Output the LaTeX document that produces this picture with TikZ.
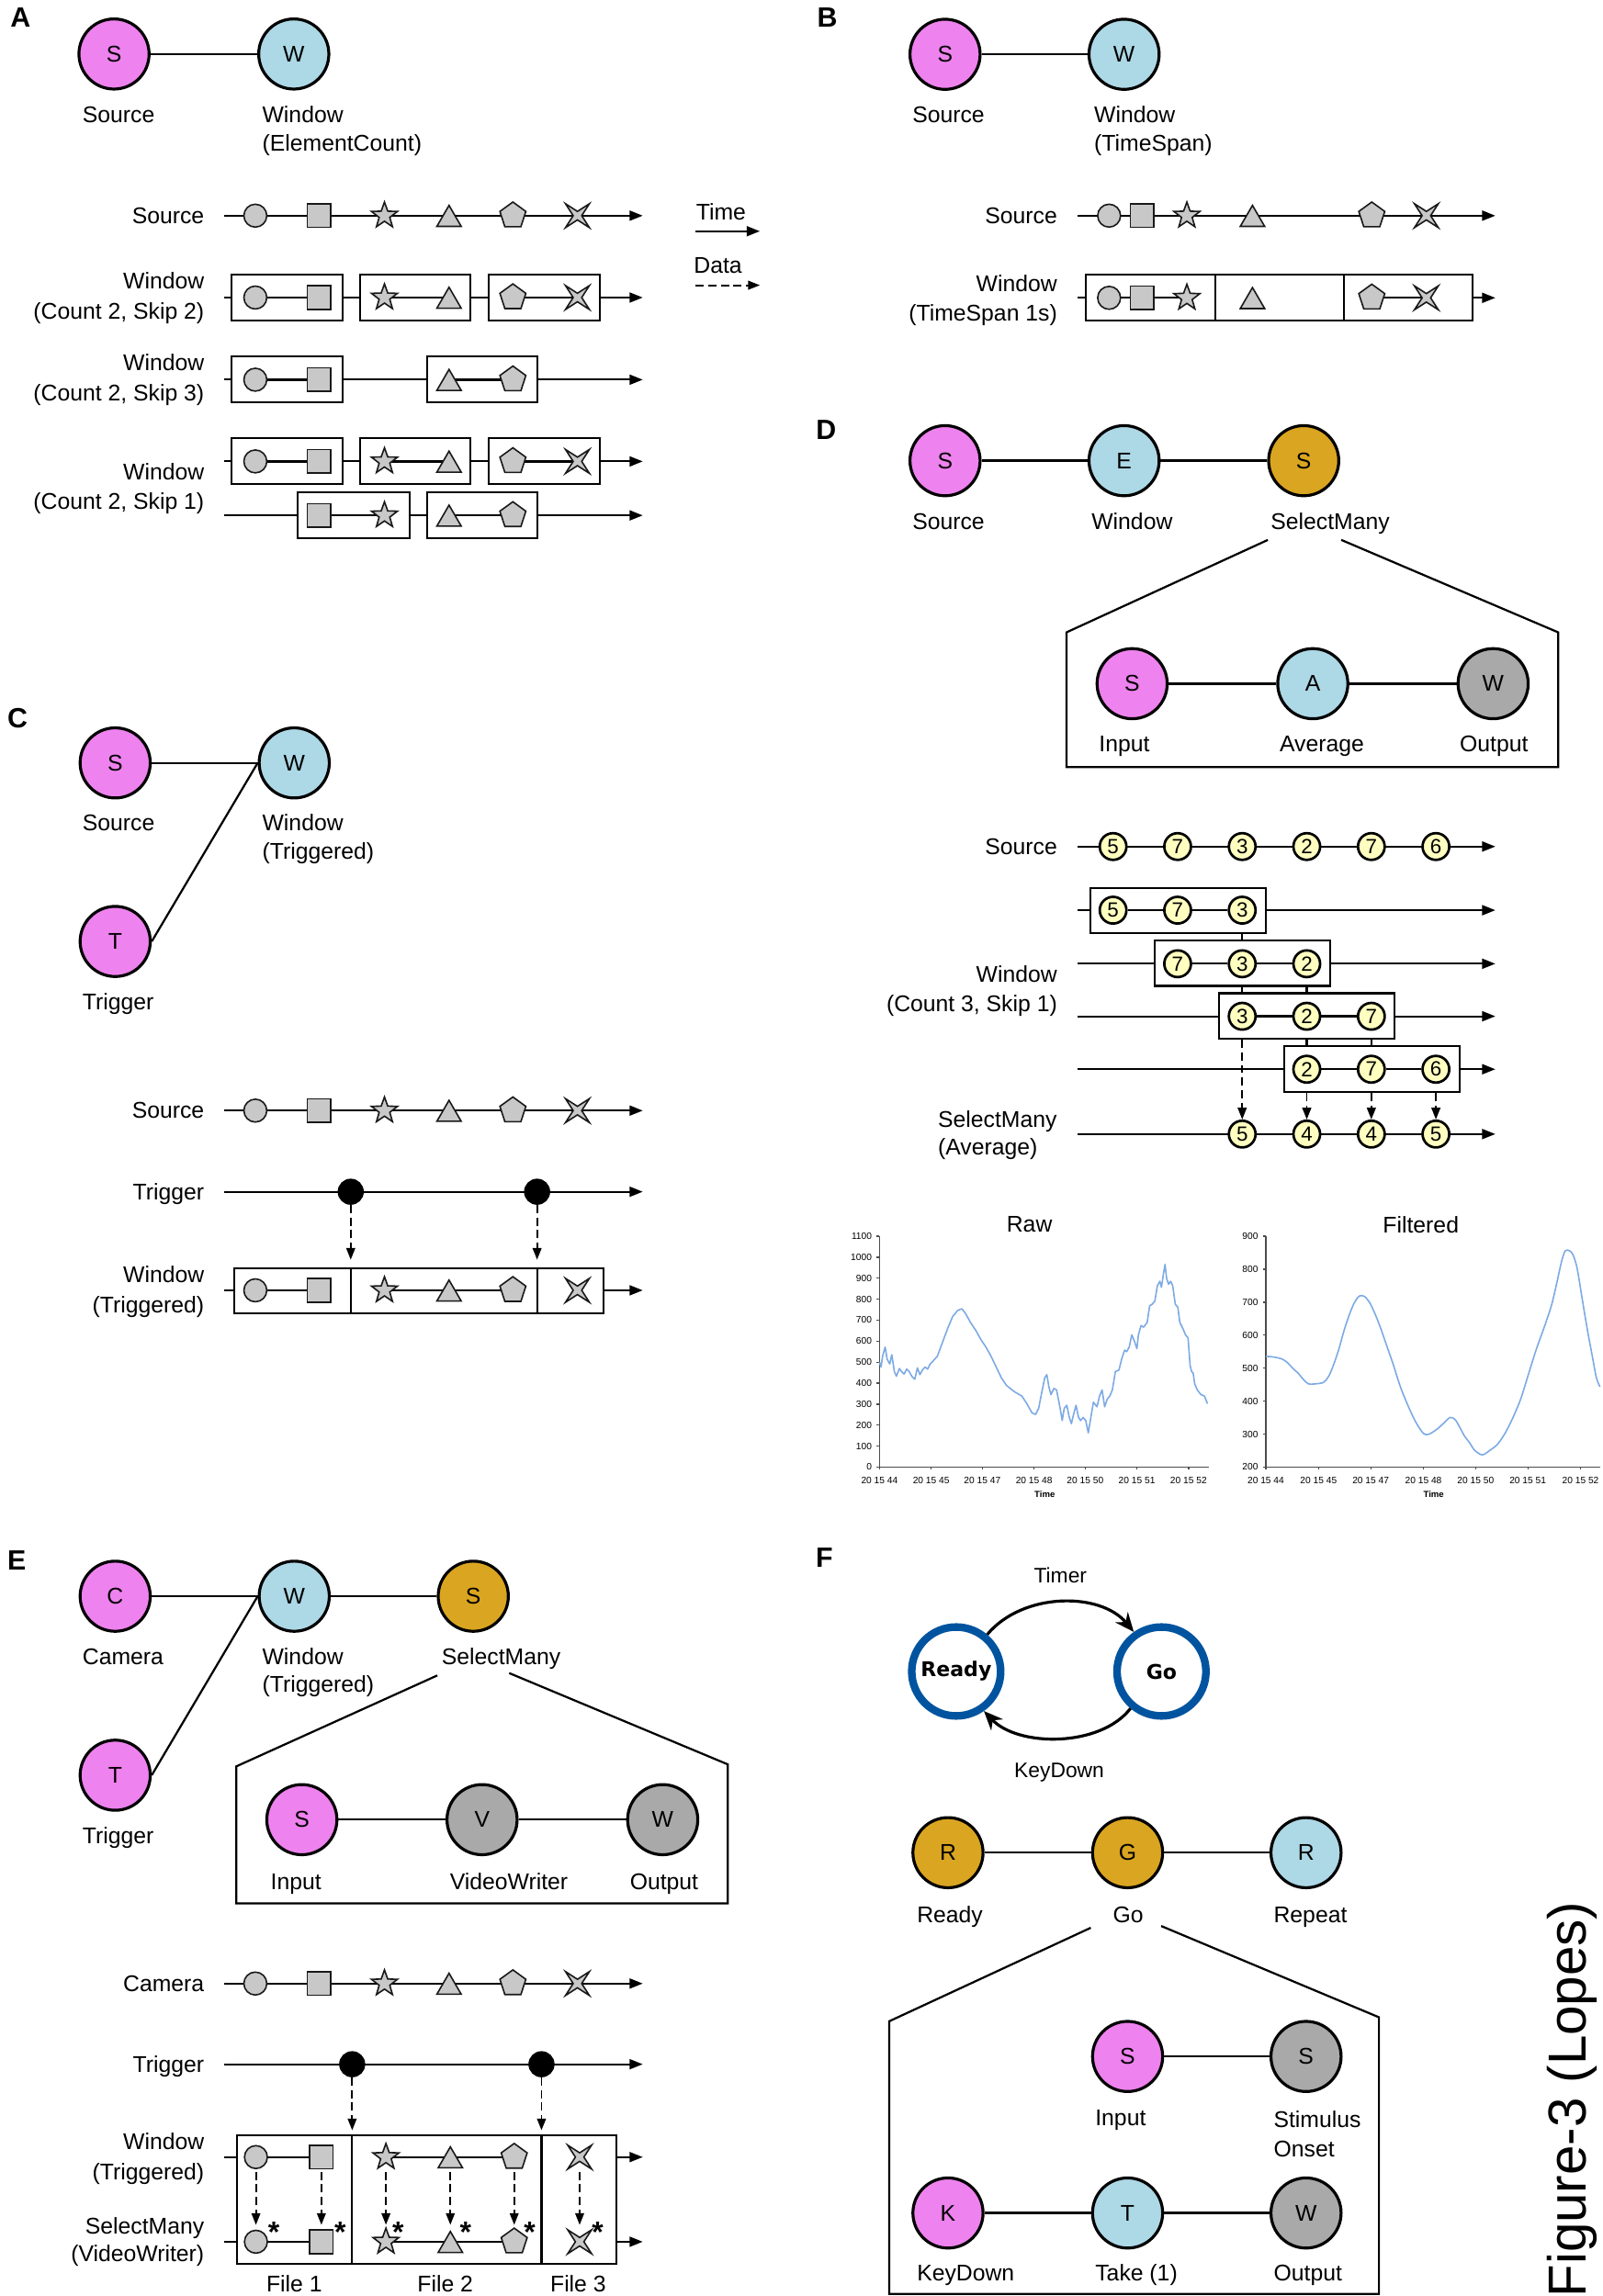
\documentclass[tikz,border=0pt]{standalone}
\usepackage{fontspec}
\setmainfont{Liberation Sans}
\newfontfamily\smfont{DejaVu Sans}
\usetikzlibrary{arrows.meta,fit}
\definecolor{pinkc}{RGB}{238,130,238}
\definecolor{bluec}{RGB}{173,216,230}
\definecolor{orc}{RGB}{218,165,32}
\definecolor{grayc}{RGB}{169,169,169}
\definecolor{shpc}{RGB}{200,200,200}
\definecolor{yelc}{RGB}{255,255,192}
\definecolor{ringc}{RGB}{0,84,159}
\definecolor{chartc}{RGB}{125,170,228}
\newcommand\labfont{\fontsize{7.75pt}{9.3pt}\selectfont}
\newcommand\stdshapes[1]{\pic at (174,#1) {mkcirc}; \pic at (217.5,#1) {mksq}; \pic at (262,#1) {mkstar}; \pic at (306,#1) {mktri}; \pic at (349.5,#1) {mkpent}; \pic at (393.5,#1) {mkx};}
\tikzset{
 nd/.style={circle, draw=black, line width=1pt, minimum size=23.9pt, inner sep=0pt},
 pinkn/.style={nd, fill=pinkc}, bluen/.style={nd, fill=bluec},
 orn/.style={nd, fill=orc}, grayn/.style={nd, fill=grayc},
 conn/.style={line width=0.7pt},
 lbl/.style={anchor=base west, inner sep=0pt},
 rlbl/.style={anchor=base east, inner sep=0pt},
 panel/.style={font=\fontsize{9.5pt}{11pt}\selectfont\bfseries, inner sep=0pt},
 tline/.style={line width=0.65pt, -{Triangle[length=4.5pt,width=3.4pt]}},
 wbox/.style={draw, fill=white, line width=0.65pt, inner sep=0pt},
 divl/.style={line width=0.65pt},
 dasharr/.style={line width=0.6pt, dash pattern=on 2.8pt off 1.5pt, -{Triangle[length=4pt,width=3pt]}},
 trig/.style={circle, fill=black, draw=black, minimum size=8.5pt, inner sep=0pt},
 numc/.style={circle, draw=black, line width=0.85pt, fill=yelc, minimum size=9.1pt, inner sep=0pt, font=\fontsize{7pt}{7.5pt}\selectfont},
 expln/.style={line width=0.7pt, line join=miter},
 shp/.style={draw=black!90, fill=shpc, line width=0.5pt, line join=miter},
 stnode/.style={circle, draw=ringc, line width=2.6pt, fill=white, minimum size=30.3pt, inner sep=0pt, font=\smfont\bfseries\fontsize{6.9pt}{8pt}\selectfont},
 smarr/.style={line width=1pt, -{Stealth[length=6.5pt,width=5.5pt]}},
 astx/.style={font=\bfseries\fontsize{10pt}{11pt}\selectfont, inner sep=0pt},
 axc/.style={draw=black!70, line width=0.4pt},
 ticklbl/.style={font=\fontsize{3.2pt}{3.6pt}\selectfont, inner sep=0pt},
 chartln/.style={draw=chartc, line width=0.5pt, line join=round},
 mkcirc/.pic={\draw[shp] (0,0) circle[radius=7.8]; \coordinate (-t) at (0,-11.5); \coordinate (-b) at (0,10);},
 mksq/.pic={\draw[shp] (-8,-8) rectangle (8,8); \coordinate (-t) at (0,-11.5); \coordinate (-b) at (0,10);},
 mkstar/.pic={\draw[shp] (270:9.3) -- (306:3.8) -- (342:9.3) -- (18:3.8) -- (54:9.3) -- (90:3.8) -- (126:9.3) -- (162:3.8) -- (198:9.3) -- (234:3.8) -- cycle; \coordinate (-t) at (0,-11.5); \coordinate (-b) at (0,10);},
 mktri/.pic={\draw[shp] (0,-7) -- (8.3,7.3) -- (-8.3,7.3) -- cycle; \coordinate (-t) at (0,-11.5); \coordinate (-b) at (0,10);},
 mkpent/.pic={\draw[shp] (270:9.3) -- (342:9.3) -- (54:9.3) -- (126:9.3) -- (198:9.3) -- cycle; \coordinate (-t) at (0,-11.5); \coordinate (-b) at (0,10);},
 mkx/.pic={\draw[shp] (45:11.5) -- (90:2.9) -- (135:11.5) -- (180:2.9) -- (225:11.5) -- (270:2.9) -- (315:11.5) -- (0:2.9) -- cycle; \coordinate (-t) at (0,-11.5); \coordinate (-b) at (0,10);},
}
\begin{document}
\begin{tikzpicture}[x=0.5pt,y=-0.5pt,font=\labfont]
\fill[white] (0,0) rectangle (1092,1565);
\useasboundingbox (0,0) rectangle (1092,1565);

%%%%%%%%%%%%%%%% PANEL A
\node[panel] (pA) at (14,12) {A};
\node[pinkn] (aS) at (77.7,36.8) {S};
\node[bluen] (aW) at (200.2,36.8) {W};
\draw[conn] (aS) -- (aW);
\node[lbl] (aSl) at (55.9,83.8) {Source};
\node[lbl] (aWl) at (178.4,83.8) {Window};
\node[lbl] (aWl2) at (178.4,102.8) {(ElementCount)};
% source row
\node[rlbl] (aL1) at (139.5,152.5) {Source};
\draw[tline] (152.5,147) -- (438,147);
\stdshapes{147}
% legend
\node[lbl] (lTime) at (474,149.7) {Time};
\coordinate (lt1) at (474,157.6); \coordinate (lt2) at (517.8,157.6);
\draw[tline] (lt1) -- (lt2);
\node[lbl] (lData) at (472.5,186.1) {Data};
\coordinate (ld1) at (474,194.4); \coordinate (ld2) at (517.8,194.4);
\draw[dasharr] (ld1) -- (ld2);
% count 2 skip 2
\node[rlbl] (aL2) at (139.5,196.9) {Window};
\node[rlbl] (aL2b) at (139.5,217.4) {(Count 2, Skip 2)};
\draw[tline] (152.5,202.8) -- (438,202.8);
\node[wbox, fit={(158,187)(233.7,218.5)}] (a2b1) {};
\node[wbox, fit={(245.6,187)(320.7,218.5)}] (a2b2) {};
\node[wbox, fit={(333,187)(408.6,218.5)}] (a2b3) {};
\draw[conn] (174,202.8) -- (217.5,202.8) (262,202.8) -- (306,202.8) (349.5,202.8) -- (393.5,202.8);
\stdshapes{202.8}
% count 2 skip 3
\node[rlbl] (aL3) at (139.5,252.6) {Window};
\node[rlbl] (aL3b) at (139.5,273.1) {(Count 2, Skip 3)};
\draw[tline] (152.5,258.8) -- (438,258.8);
\node[wbox, fit={(158,243.1)(233.7,274.3)}] (a3b1) {};
\node[wbox, fit={(291,243.1)(366,274.3)}] (a3b2) {};
\draw[conn] (174,258.8) -- (217.5,258.8) (306,258.8) -- (349.5,258.8);
\pic at (174,258.8) {mkcirc}; \pic at (217.5,258.8) {mksq}; \pic at (306,258.8) {mktri}; \pic at (349.5,258.8) {mkpent};
% count 2 skip 1
\node[rlbl] (aL4) at (139.5,327.2) {Window};
\node[rlbl] (aL4b) at (139.5,347) {(Count 2, Skip 1)};
\draw[tline] (152.5,314.5) -- (438,314.5);
\node[wbox, fit={(158,298.8)(233.7,330)}] (a4b1) {};
\node[wbox, fit={(245.6,298.8)(320.7,330)}] (a4b2) {};
\node[wbox, fit={(333,298.8)(408.6,330)}] (a4b3) {};
\draw[conn] (174,314.5) -- (217.5,314.5) (262,314.5) -- (306,314.5) (349.5,314.5) -- (393.5,314.5);
\stdshapes{314.5}
\draw[tline] (152.5,351.3) -- (438,351.3);
\node[wbox, fit={(203,335.6)(279,366.8)}] (a5b1) {};
\node[wbox, fit={(291,335.6)(366,366.8)}] (a5b2) {};
\draw[conn] (217.5,351.3) -- (262,351.3) (306,351.3) -- (349.5,351.3);
\pic at (217.5,351.3) {mksq}; \pic at (262,351.3) {mkstar}; \pic at (306,351.3) {mktri}; \pic at (349.5,351.3) {mkpent};

%%%%%%%%%%%%%%%% PANEL B
\node[panel] (pB) at (563.8,12) {B};
\node[pinkn] (bS) at (644,37) {S};
\node[bluen] (bW) at (766,37) {W};
\draw[conn] (bS) -- (bW);
\node[lbl] (bSl) at (621.4,83.8) {Source};
\node[lbl] (bWl) at (745.3,83.8) {Window};
\node[lbl] (bWl2) at (745.3,102.8) {(TimeSpan)};
\node[rlbl] (bL1) at (720.8,152.5) {Source};
\draw[tline] (734,147) -- (1019,147);
\pic at (755.8,147) {mkcirc}; \pic at (778.4,147) {mksq}; \pic at (808.8,147) {mkstar};
\pic at (853.5,147) {mktri}; \pic at (934.8,147) {mkpent}; \pic at (972,147) {mkx};
\node[rlbl] (bL2) at (720.8,198.8) {Window};
\node[rlbl] (bL2b) at (720.8,218.8) {(TimeSpan 1s)};
\draw[tline] (734,203) -- (1019,203);
\node[wbox, fit={(740,187)(1003.5,218.5)}] (bbox) {};
\draw[divl] (828,187) -- (828,218.5) (915.6,187) -- (915.6,218.5);
\draw[conn] (755.8,203) -- (808.8,203) (934.8,203) -- (972,203);
\pic at (755.8,203) {mkcirc}; \pic at (778.4,203) {mksq}; \pic at (808.8,203) {mkstar};
\pic at (853.5,203) {mktri}; \pic at (934.8,203) {mkpent}; \pic at (972,203) {mkx};

%%%%%%%%%%%%%%%% PANEL C
\node[panel] (pC) at (12,489.5) {C};
\node[pinkn] (cS) at (78.5,520) {S};
\node[bluen] (cW) at (200.5,520) {W};
\node[pinkn] (cT) at (78.5,641.7) {T};
\draw[conn] (cS) -- (cW);
\draw[conn] (cT.east) -- (cW.west);
\node[lbl] (cSl) at (55.9,566.5) {Source};
\node[lbl] (cWl) at (178.4,566.5) {Window};
\node[lbl] (cWl2) at (178.4,585.5) {(Triggered)};
\node[lbl] (cTl) at (55.9,688.2) {Trigger};
\node[rlbl] (cL1) at (139.5,762.4) {Source};
\draw[tline] (152.5,757) -- (438,757);
\stdshapes{757}
\node[rlbl] (cL2) at (139.5,817.7) {Trigger};
\draw[tline] (152.5,812.3) -- (438,812.3);
\node[trig] (ct1) at (239,812.3) {};
\node[trig] (ct2) at (366,812.3) {};
\node[rlbl] (cL3) at (139.5,874) {Window};
\node[rlbl] (cL3b) at (139.5,894.6) {(Triggered)};
\draw[tline] (152.5,879.5) -- (438,879.5);
\node[wbox, fit={(159.5,864.3)(411,895.3)}] (cbox) {};
\draw[divl] (239,864.3) -- (239,895.3) (366,864.3) -- (366,895.3);
\draw[conn] (174,879.5) -- (217.5,879.5) (262,879.5) -- (349.5,879.5);
\stdshapes{879.5}
\draw[dasharr, shorten >=2.5pt] (ct1) -- (cbox.north -| ct1);
\draw[dasharr, shorten >=2.5pt] (ct2) -- (cbox.north -| ct2);

%%%%%%%%%%%%%%%% PANEL D
\node[panel] (pD) at (563,292.7) {D};
\node[pinkn] (dS) at (644,314) {S};
\node[bluen] (dE) at (766,314) {E};
\node[orn] (dM) at (888.4,314) {S};
\draw[conn] (dS) -- (dE) -- (dM);
\node[lbl] (dSl) at (621.4,361) {Source};
\node[lbl] (dEl) at (743.5,361) {Window};
\node[lbl] (dMl) at (865.6,361) {SelectMany};
\draw[expln] (864,368) -- (726.8,431) -- (726.8,522.8) -- (1061.8,522.8) -- (1061.8,431) -- (914,368);
\node[pinkn] (diS) at (771.5,466) {S};
\node[bluen] (diA) at (894.6,466) {A};
\node[grayn] (diW) at (1017.5,466) {W};
\draw[conn] (diS) -- (diA) -- (diW);
\node[lbl] (diSl) at (748.6,512.4) {Input};
\node[lbl] (diAl) at (871.7,512.4) {Average};
\node[lbl] (diWl) at (994.4,512.4) {Output};
% number rows
\node[rlbl] (dL1) at (720.8,582.4) {Source};
\draw[tline] (734,577) -- (1019,577);
\node[numc] (ds1) at (758.5,577) {5};
\node[numc] (ds2) at (802.5,577) {7};
\node[numc] (ds3) at (846.5,577) {3};
\node[numc] (ds4) at (890.5,577) {2};
\node[numc] (ds5) at (934.5,577) {7};
\node[numc] (ds6) at (978.5,577) {6};
% row 1
\draw[tline] (734,620.4) -- (1019,620.4);
\node[wbox, fit={(742.8,605.4)(862.9,636)}] (dw1) {};
\node[numc] (dn11) at (758.5,620.4) {5};
\node[numc] (dn12) at (802.5,620.4) {7};
\node[numc] (dn13) at (846.5,620.4) {3};
\draw[conn] (dn11) -- (dn12) -- (dn13);
% row 2
\draw[tline] (734,656.9) -- (1019,656.9);
\node[wbox, fit={(787,641.2)(906.5,672)}] (dw2) {};
\node[numc] (dn21) at (802.5,656.9) {7};
\node[numc] (dn22) at (846.5,656.9) {3};
\node[numc] (dn23) at (890.5,656.9) {2};
\draw[conn] (dn21) -- (dn22) -- (dn23);
% row 3
\draw[tline] (734,692.7) -- (1019,692.7);
\node[wbox, fit={(830.8,677)(950.5,708)}] (dw3) {};
\node[numc] (dn31) at (846.5,692.7) {3};
\node[numc] (dn32) at (890.5,692.7) {2};
\node[numc] (dn33) at (934.5,692.7) {7};
\draw[conn] (dn31) -- (dn32) -- (dn33);
% row 4
\draw[tline] (734,728.8) -- (1019,728.8);
\node[wbox, fit={(875,713)(994.8,744.4)}] (dw4) {};
\node[numc] (dn41) at (890.5,728.8) {2};
\node[numc] (dn42) at (934.5,728.8) {7};
\node[numc] (dn43) at (978.5,728.8) {6};
\draw[conn] (dn41) -- (dn42) -- (dn43);
% selectmany
\draw[tline] (734,773) -- (1019,773);
\node[numc] (sm1) at (846.5,773) {5};
\node[numc] (sm2) at (890.5,773) {4};
\node[numc] (sm3) at (934.5,773) {4};
\node[numc] (sm4) at (978.5,773) {5};
\draw[conn] (dw1.south -| dn13) -- (dw2.north -| dn13);
\draw[conn] (dw2.south -| dn22) -- (dw3.north -| dn22);
\draw[conn] (dw2.south -| dn23) -- (dw3.north -| dn23);
\draw[conn] (dw3.south -| dn32) -- (dw4.north -| dn32);
\draw[conn] (dw3.south -| dn33) -- (dw4.north -| dn33);
\draw[dasharr] (dw3.south -| sm1) -- (sm1);
\draw[dasharr] (dw4.south -| sm2) -- (sm2);
\draw[dasharr] (dw4.south -| sm3) -- (sm3);
\draw[dasharr] (dw4.south -| sm4) -- (sm4);
\node[rlbl] (dL2) at (720.8,669.4) {Window};
\node[rlbl] (dL2b) at (720.8,689.4) {(Count 3, Skip 1)};
\node[lbl] (dL3) at (638.8,768.4) {SelectMany};
\node[lbl] (dL3b) at (638.8,787.4) {(Average)};
% charts
\begin{scope}[shift={(544.6,801.3)}, x=0.17435pt, y=-0.10435pt]
 \node (rawt) at (450,160) {Raw};
 \draw[axc] (157,198) -- (157,952) -- (800,952);
 \foreach \i in {0,...,11} {
   \pgfmathsetmacro\yy{952-\i*68.55}
   \pgfmathtruncatemacro\vv{\i*100}
   \draw[axc] (151,\yy) -- (157,\yy);
   \node[ticklbl, anchor=east] at (143,\yy) {\vv};
 }
 \foreach \xx/\tt in {157/44,258/45,358/47,459/48,559/50,660/51,761/52} {
   \draw[axc] (\xx,952) -- (\xx,960);
   \node[ticklbl] at (\xx,995) {20 15 \tt};
 }
 \node[ticklbl, font=\bfseries\fontsize{3pt}{3.4pt}\selectfont] at (480,1040) {Time};
 \draw[chartln] (157,610) -- (160,625) -- (163,590) -- (168,560) -- (172,600) -- (177,615) -- (181,585) -- (186,640) -- (190,655) -- (196,630) -- (200,640) -- (205,648) -- (210,632) -- (215,640) -- (220,655) -- (226,665) -- (231,628) -- (236,650) -- (241,635) -- (246,625) -- (251,632) -- (256,615) -- (262,605) -- (270,590) -- (280,545) -- (290,500) -- (300,460) -- (310,440) -- (318,435) -- (325,450) -- (335,480) -- (345,505) -- (355,535) -- (365,560) -- (375,590) -- (385,625) -- (395,660) -- (405,685) -- (420,705) -- (435,720) -- (445,745) -- (455,775) -- (462,780) -- (468,760) -- (475,700) -- (480,660) -- (484,650) -- (488,690) -- (492,715) -- (498,695) -- (503,700) -- (510,760) -- (514,800) -- (518,760) -- (523,750) -- (528,790) -- (532,810) -- (537,775) -- (541,750) -- (546,790) -- (550,800) -- (555,790) -- (560,800) -- (565,840) -- (570,790) -- (575,740) -- (582,755) -- (587,720) -- (592,700) -- (597,755) -- (602,730) -- (607,720) -- (612,700) -- (618,640) -- (625,635) -- (630,600) -- (636,570) -- (640,575) -- (645,560) -- (650,520) -- (655,540) -- (660,565) -- (663,520) -- (668,490) -- (673,495) -- (680,480) -- (685,425) -- (690,420) -- (695,410) -- (700,360) -- (705,345) -- (708,365) -- (712,320) -- (715,290) -- (718,335) -- (722,355) -- (726,345) -- (730,360) -- (735,420) -- (740,430) -- (744,480) -- (750,500) -- (755,520) -- (760,530) -- (764,620) -- (767,640) -- (770,645) -- (773,680) -- (778,700) -- (785,715) -- (792,720) -- (798,745);
 % filtered
 \node (filt) at (1215,160) {Filtered};
 \draw[axc] (912,198) -- (912,952) -- (1565,952);
 \foreach \i in {0,...,7} {
   \pgfmathsetmacro\yy{952-\i*107.7}
   \pgfmathtruncatemacro\vv{200+\i*100}
   \draw[axc] (906,\yy) -- (912,\yy);
   \node[ticklbl, anchor=east] at (898,\yy) {\vv};
 }
 \foreach \xx/\tt in {912/44,1015/45,1117/47,1220/48,1322/50,1424/51,1527/52} {
   \draw[axc] (\xx,952) -- (\xx,960);
   \node[ticklbl] at (\xx,995) {20 15 \tt};
 }
 \node[ticklbl, font=\bfseries\fontsize{3pt}{3.4pt}\selectfont] at (1240,1040) {Time};
 \draw[chartln] plot[smooth, tension=0.5] coordinates {(912,590) (925,592) (935,595) (945,600) (955,612) (965,630) (975,645) (985,665) (995,680) (1010,680) (1025,675) (1035,655) (1045,615) (1055,565) (1065,505) (1075,455) (1085,415) (1095,393) (1105,395) (1115,415) (1125,450) (1135,492) (1145,540) (1160,612) (1175,690) (1190,752) (1205,805) (1220,842) (1230,845) (1245,830) (1260,808) (1272,790) (1282,797) (1292,825) (1300,850) (1310,872) (1320,897) (1335,912) (1350,897) (1365,877) (1380,840) (1395,790) (1410,730) (1425,650) (1440,570) (1455,500) (1470,425) (1480,355) (1490,280) (1497,246) (1505,245) (1512,258) (1520,300) (1530,400) (1540,500) (1550,590) (1558,660) (1565,690)};
\end{scope}

%%%%%%%%%%%%%%%% PANEL E
\node[panel] (pE) at (11.5,1063.8) {E};
\node[pinkn] (eC) at (78.5,1088) {C};
\node[bluen] (eW) at (200.5,1088) {W};
\node[orn] (eS) at (322.5,1088) {S};
\node[pinkn] (eT) at (78.5,1210) {T};
\draw[conn] (eC) -- (eW) -- (eS);
\draw[conn] (eT.east) -- (eW.west);
\node[lbl] (eCl) at (55.9,1134.5) {Camera};
\node[lbl] (eWl) at (178.4,1134.5) {Window};
\node[lbl] (eWl2) at (178.4,1153.5) {(Triggered)};
\node[lbl] (eSl) at (300.6,1134.5) {SelectMany};
\node[lbl] (eTl) at (55.9,1256.5) {Trigger};
\draw[expln] (298,1142) -- (161,1204) -- (161,1297.4) -- (495.9,1297.4) -- (495.9,1202.6) -- (347,1140.4);
\node[pinkn] (eiS) at (205.7,1240.3) {S};
\node[grayn] (eiV) at (328.5,1240.3) {V};
\node[grayn] (eiW) at (451.6,1240.3) {W};
\draw[conn] (eiS) -- (eiV) -- (eiW);
\node[lbl] (eiSl) at (184.1,1287.7) {Input};
\node[lbl] (eiVl) at (306.2,1287.7) {VideoWriter};
\node[lbl] (eiWl) at (428.9,1287.7) {Output};
\node[rlbl] (eL1) at (139.5,1357.4) {Camera};
\draw[tline] (152.5,1352) -- (438,1352);
\stdshapes{1352}
\node[rlbl] (eL2) at (139.5,1412.4) {Trigger};
\draw[tline] (152.5,1407) -- (438,1407);
\node[trig] (et1) at (240,1407) {};
\node[trig] (et2) at (369,1407) {};
\node[rlbl] (eL3) at (139.5,1464.9) {Window};
\node[rlbl] (eL3b) at (139.5,1485.6) {(Triggered)};
\node[rlbl] (eL4) at (139.5,1523) {SelectMany};
\node[rlbl] (eL4b) at (139.5,1541.7) {(VideoWriter)};
\draw[tline] (152.5,1470.3) -- (438,1470.3);
\draw[tline] (152.5,1528) -- (438,1528);
\node[wbox, fit={(161.4,1455.7)(420.2,1543)}] (ebox) {};
\draw[divl] (240,1455.7) -- (240,1543) (369,1455.7) -- (369,1543);
\draw[conn] (174.4,1470.3) -- (219,1470.3) (263,1470.3) -- (350.4,1470.3);
\draw[conn] (174.4,1528) -- (219,1528) (263,1528) -- (350.4,1528);
\pic (ew1) at (174.4,1470.3) {mkcirc}; \pic (ew2) at (219,1470.3) {mksq}; \pic (ew3) at (263,1470.3) {mkstar};
\pic (ew4) at (306.9,1470.3) {mktri}; \pic (ew5) at (350.4,1470.3) {mkpent}; \pic (ew6) at (395,1470.3) {mkx};
\pic (es1) at (174.4,1528) {mkcirc}; \pic (es2) at (219,1528) {mksq}; \pic (es3) at (263,1528) {mkstar};
\pic (es4) at (306.9,1528) {mktri}; \pic (es5) at (350.4,1528) {mkpent}; \pic (es6) at (395,1528) {mkx};
\foreach \k in {1,...,6} { \draw[dasharr] (ew\k-b) -- (es\k-t); }
\node[astx] (as1) at (186.6,1521.4) {*};
\node[astx] (as2) at (231.9,1521.4) {*};
\node[astx] (as3) at (271.3,1521.4) {*};
\node[astx] (as4) at (317.3,1521.4) {*};
\node[astx] (as5) at (361,1521.4) {*};
\node[astx] (as6) at (407.3,1521.4) {*};
\draw[dasharr, shorten >=1.5pt] (et1) -- (ebox.north -| et1);
\draw[dasharr, shorten >=1.5pt] (et2) -- (ebox.north -| et2);
\node[anchor=base, inner sep=0pt] (f1) at (200.5,1562) {File 1};
\node[anchor=base, inner sep=0pt] (f2) at (303.4,1562) {File 2};
\node[anchor=base, inner sep=0pt] (f3) at (394,1562) {File 3};

%%%%%%%%%%%%%%%% PANEL F
\node[panel] (pF) at (561.7,1062) {F};
\node[stnode] (rdy) at (651.6,1139.3) {Ready};
\node[stnode] (go) at (791.5,1139.3) {Go};
\draw[smarr] (rdy.50) .. controls (697,1085) and (750,1085) .. (go.125);
\draw[smarr] (go.230) .. controls (750,1191) and (694,1191) .. (rdy.305);
\node[anchor=base, inner sep=0pt, font=\fontsize{7.15pt}{8.5pt}\selectfont] (tmr) at (722.6,1079.2) {Timer};
\node[anchor=base, inner sep=0pt, font=\fontsize{7.15pt}{8.5pt}\selectfont] (kdn) at (721.8,1211.8) {KeyDown};
\node[orn] (fR) at (646,1262.8) {R};
\node[orn] (fG) at (768.4,1262.8) {G};
\node[bluen] (fRp) at (890,1262.8) {R};
\draw[conn] (fR) -- (fG) -- (fRp);
\node[lbl] (fRl) at (624.5,1310.3) {Ready};
\node[lbl] (fGl) at (758,1310.3) {Go};
\node[lbl] (fRpl) at (867.6,1310.3) {Repeat};
\draw[expln] (743.3,1314) -- (606,1377.7) -- (606,1563.5) -- (939.7,1563.5) -- (939.7,1375) -- (791.3,1312.8);
\node[pinkn] (fiS) at (768.4,1401.7) {S};
\node[grayn] (fiSo) at (890,1401.7) {S};
\node[pinkn] (fK) at (646,1508.4) {K};
\node[bluen] (fT) at (768.4,1508.4) {T};
\node[grayn] (fW) at (890,1508.4) {W};
\draw[conn] (fiS) -- (fiSo);
\draw[conn] (fK) -- (fT) -- (fW);
\node[lbl] (fiSl) at (746,1448.8) {Input};
\node[lbl] (fiSol) at (867.6,1450.4) {Stimulus};
\node[lbl] (fiSol2) at (867.6,1470) {Onset};
\node[lbl] (fKl) at (624.5,1554.8) {KeyDown};
\node[lbl] (fTl) at (746,1554.8) {Take (1)};
\node[lbl] (fWl) at (867.6,1554.8) {Output};

\node[rotate=90, inner sep=0pt, font=\fontsize{18.25pt}{20pt}\selectfont] (figlbl) at (1071.5,1431) {Figure-3 (Lopes)};
\end{tikzpicture}
\end{document}
